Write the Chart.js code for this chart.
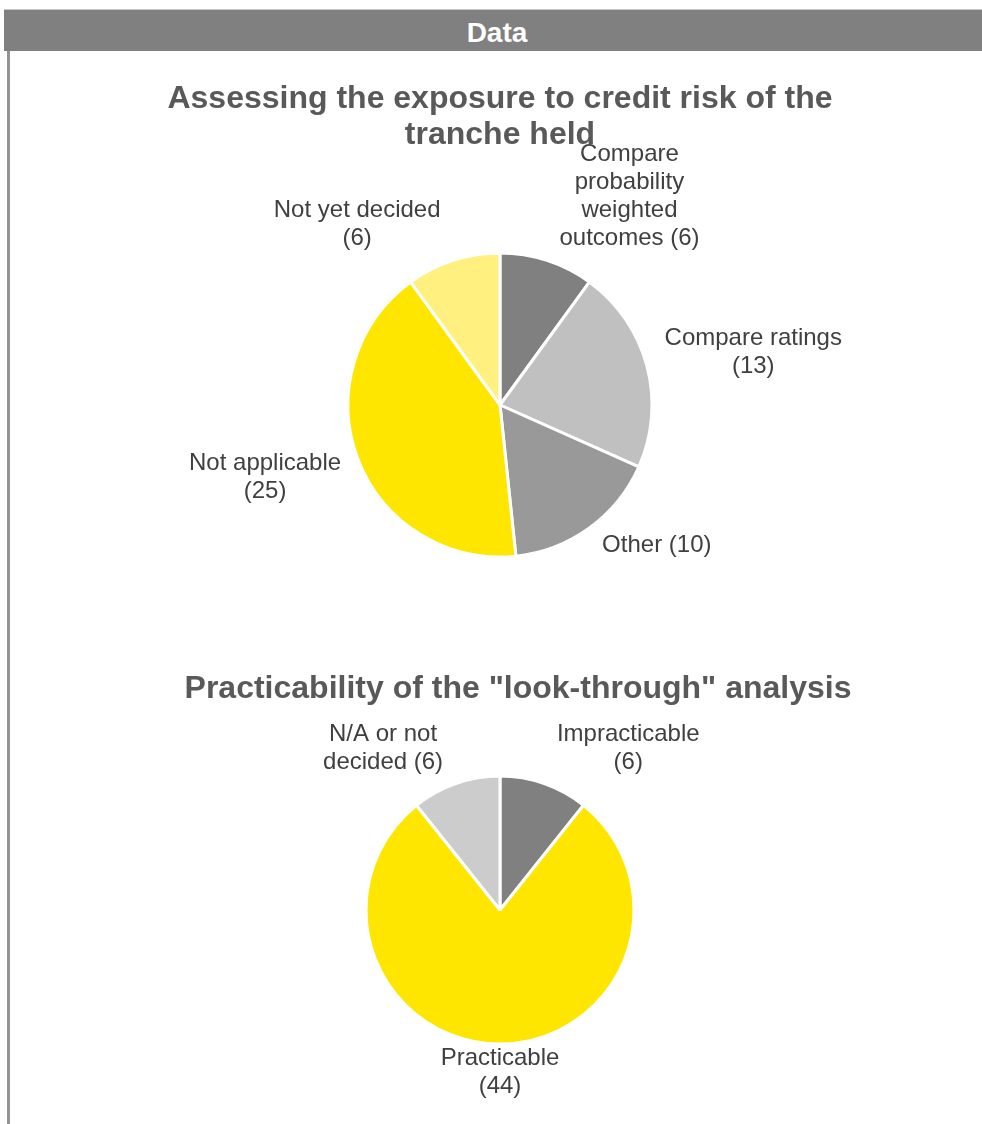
<!DOCTYPE html>
<html>
<head>
<meta charset="utf-8">
<title>Data</title>
<script src="https://cdn.jsdelivr.net/npm/chart.js@4/dist/chart.umd.min.js"></script>
<style>
  html, body { margin: 0; padding: 0; background: #fff; }
  body { width: 982px; height: 1124px; position: relative; overflow: hidden;
         font-family: "Liberation Sans", Arial, sans-serif; }
  .head { position: absolute; left: 4px; top: 9px; width: 978px; height: 42px;
          background: #808080; border-top: 1px solid #c8c8c8; box-sizing: border-box;
          color: #fff; font-weight: bold; font-size: 28px; line-height: 45px; text-align: center; }
  .head span { position: relative; left: 4px; }
  .side { position: absolute; left: 7px; top: 51px; width: 3px; height: 1073px; background: #939393; }
  .title { position: absolute; color: #595959; font-weight: bold; font-size: 32px;
           line-height: 36px; text-align: center; }
  .box { position: absolute; left: 0; width: 982px; }
</style>
</head>
<body>
<div class="head"><span>Data</span></div>
<div class="side"></div>

<div class="box" style="top:130px;height:540px"><canvas id="riskChart"></canvas></div>
<div class="box" style="top:690px;height:434px"><canvas id="lookChart"></canvas></div>

<div class="title" style="left:150px;width:700px;top:79px">Assessing the exposure to credit risk of the tranche held</div>
<div class="title" style="left:168px;width:700px;top:669px">Practicability of the "look-through" analysis</div>

<script>
// credit risk approach
var riskCategories = ["Compare probability weighted outcomes", "Compare ratings", "Other", "Not applicable", "Not yet decided"];
var riskValues = [6, 13, 10, 25, 6];
var riskColors = ["#808080", "#c0c0c0", "#999999", "#ffe600", "#fff07f"];

// look-through practicability
var lookCategories = ["Impracticable", "Practicable", "N/A or not decided"];
var lookValues = [6, 44, 6];
var lookColors = ["#808080", "#ffe600", "#cccccc"];

var labelFont = "24px 'Liberation Sans', Arial, sans-serif";

function wrap(ctx, text, maxW) {
  var words = text.split(" ");
  var lines = [];
  var cur = "";
  words.forEach(function (w) {
    var t = cur ? cur + " " + w : w;
    if (cur && ctx.measureText(t).width > maxW) {
      lines.push(cur);
      cur = w;
    } else {
      cur = t;
    }
  });
  if (cur) lines.push(cur);
  return lines;
}

function clamp(v) { return Math.max(-1, Math.min(1, v)); }

// category labels outside each slice: "Name (value)"
var outsideLabels = {
  id: "outsideLabels",
  afterDatasetsDraw: function (chart, args, opts) {
    var ctx = chart.ctx;
    var meta = chart.getDatasetMeta(0);
    var values = chart.data.datasets[0].data;
    ctx.save();
    ctx.font = labelFont;
    ctx.fillStyle = "#404040";
    ctx.textAlign = "center";
    ctx.textBaseline = "middle";
    var lh = 28;
    meta.data.forEach(function (arc, i) {
      var p = arc.getProps(["x", "y", "startAngle", "endAngle", "outerRadius"], true);
      var mid = (p.startAngle + p.endAngle) / 2;
      var cos = Math.cos(mid), sin = Math.sin(mid);
      var text = chart.data.labels[i] + " (" + values[i] + ")";
      var lines = wrap(ctx, text, opts.wrapWidth);
      var w = 0;
      lines.forEach(function (l) { w = Math.max(w, ctx.measureText(l).width); });
      var h = lines.length * lh;
      // labels under the pie sit tight against the rim
      var gap = sin > 0 ? 8 * Math.abs(cos) : 8;
      var ax = p.x + (p.outerRadius + gap) * cos;
      var ay = p.y + (p.outerRadius + gap) * sin;
      var fx = clamp(cos * 4);
      var cx = ax + fx * (w / 2 + 10);
      var cy = ay + clamp(sin * 1.5) * h / 2;
      lines.forEach(function (l, k) {
        ctx.fillText(l, cx, cy - h / 2 + lh / 2 + k * lh);
      });
    });
    ctx.restore();
  }
};

function makePie(id, labels, values, colors, radius, pad, wrapWidth) {
  return new Chart(document.getElementById(id), {
    type: "pie",
    data: {
      labels: labels,
      datasets: [{
        data: values,
        backgroundColor: colors,
        borderColor: "#ffffff",
        borderWidth: 3,
        radius: radius
      }]
    },
    options: {
      responsive: true,
      maintainAspectRatio: false,
      animation: false,
      layout: { padding: pad },
      plugins: {
        legend: { display: false },
        tooltip: { enabled: false },
        outsideLabels: { wrapWidth: wrapWidth }
      }
    },
    plugins: [outsideLabels]
  });
}

makePie("riskChart", riskCategories, riskValues, riskColors, 152, { left: 18, top: 10 }, 190);
makePie("lookChart", lookCategories, lookValues, lookColors, 134, { left: 18, top: 6 }, 150);
</script>
</body>
</html>
